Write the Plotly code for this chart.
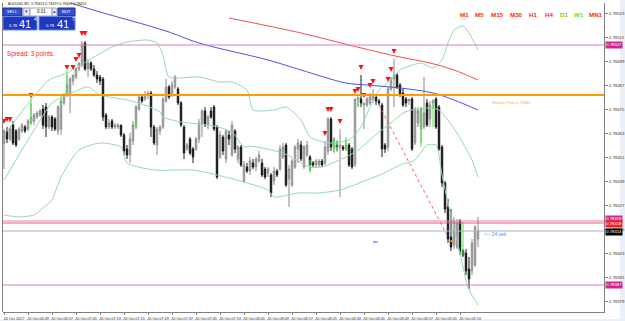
import plotly.graph_objects as go

# ---------------- data (prices in points, 1 point = 0.00001) ----------------
open_pts = [78458,78464,78460,78467,78464,78460,78464,78466,78465,78468,78469,78471,78472,78475,78476,78466,78471,78470,78464,78465,
            78478,78482,78482,78489,78491,78495,78497,78508,78495,78498,78495,78492,78491,78490,78472,78466,78469,78466,78466,78467,
            78462,78455,78452,78459,78466,78475,78481,78480,78482,78483,78466,78457,78464,78466,78479,78486,78482,78486,78485,78478,
            78466,78455,78460,78455,78455,78460,78468,78474,78467,78474,78476,78466,78451,78461,78450,78462,78452,78464,78450,78456,
            78439,78446,78444,78448,78446,78449,78448,78445,78443,78442,78439,78444,78445,78451,78457,78440,78437,78446,78455,78457,
            78446,78452,78451,78448,78447,78447,78449,78448,78454,78470,78455,78457,78456,78456,78455,78457,78455,78447,78480,78480,
            78477,78477,78478,78480,78481,78479,78477,78457,78456,78485,78490,78492,78487,78483,78480,78479,78480,78458,78468,78465,
            78466,78478,78470,78478,78480,78476,78456,78438,78426,78411,78407,78406,78419,78404,78403,78395,78394,78397,78410]
high_pts = [78465,78466,78466,78469,78465,78466,78468,78467,78470,78478,78473,78474,78475,78477,78478,78472,78472,78471,78477,78480,
            78483,78492,78491,78492,78496,78498,78509,78509,78500,78499,78497,78494,78492,78491,78473,78470,78470,78468,78468,78467,
            78463,78457,78463,78469,78477,78482,78482,78484,78484,78484,78467,78466,78467,78481,78490,78487,78489,78492,78486,78479,
            78467,78458,78461,78456,78461,78470,78475,78476,78472,78476,78477,78467,78464,78462,78465,78464,78469,78465,78457,78457,
            78449,78448,78451,78450,78451,78454,78450,78446,78446,78443,78446,78445,78457,78458,78458,78447,78450,78457,78460,78459,
            78457,78459,78452,78449,78450,78450,78450,78459,78471,78471,78461,78459,78465,78457,78460,78458,78456,78480,78481,78492,
            78478,78481,78483,78485,78482,78480,78478,78458,78486,78491,78500,78493,78488,78485,78481,78480,78481,78476,78476,78476,
            78491,78480,78479,78480,78481,78477,78457,78439,78430,78425,78421,78420,78420,78405,78405,78401,78410,78417,78421]
low_pts = [78445,78458,78459,78457,78456,78459,78463,78463,78464,78467,78467,78470,78471,78465,78461,78465,78464,78464,78462,78462,
           78477,78481,78473,78487,78490,78494,78496,78494,78491,78494,78491,78488,78487,78469,78465,78465,78465,78465,78465,78461,
           78452,78450,78448,78457,78465,78474,78478,78479,78480,78461,78457,78452,78462,78465,78478,78480,78481,78485,78477,78466,
           78450,78454,78452,78448,78454,78458,78461,78466,78465,78470,78464,78440,78450,78452,78448,78457,78451,78453,78448,78446,
           78438,78443,78442,78445,78444,78448,78441,78440,78441,78431,78437,78441,78444,78450,78436,78426,78436,78445,78448,78449,
           78445,78451,78444,78446,78446,78446,78446,78447,78452,78454,78453,78454,78431,78454,78454,78446,78445,78446,78476,78476,
           78465,78476,78477,78478,78477,78477,78451,78453,78454,78484,78476,78485,78481,78476,78476,78477,78454,78457,78466,78458,
           78465,78466,78466,78475,78465,78454,78436,78423,78408,78404,78405,78405,78402,78401,78392,78385,78392,78396,78406]
close_pts = [78464,78460,78465,78458,78457,78465,78467,78464,78469,78471,78472,78473,78474,78467,78466,78471,78466,78465,78476,78479,
             78482,78487,78490,78492,78495,78498,78507,78495,78498,78495,78492,78490,78489,78471,78466,78468,78466,78467,78467,78462,
             78454,78452,78460,78467,78476,78481,78479,78482,78483,78466,78458,78465,78466,78480,78486,78481,78487,78491,78478,78467,
             78453,78457,78453,78451,78460,78468,78474,78467,78471,78471,78465,78441,78462,78454,78464,78460,78467,78455,78456,78447,
             78447,78444,78449,78446,78450,78452,78442,78441,78445,78433,78444,78442,78455,78456,78437,78445,78449,78456,78458,78450,
             78456,78457,78447,78447,78449,78449,78447,78456,78470,78456,78460,78456,78457,78455,78457,78447,78446,78480,78481,78478,
             78478,78480,78481,78482,78479,78478,78455,78455,78485,78490,78492,78486,78482,78477,78478,78480,78455,78475,78474,78475,
             78473,78467,78477,78479,78466,78455,78438,78425,78410,78406,78419,78418,78404,78402,78394,78390,78408,78416,78414]
bars = list(range(len(close_pts)))

time_labels = ["20 Oct 2017", "20 Oct 06:49", "20 Oct 06:57", "20 Oct 07:05", "20 Oct 07:13",
               "20 Oct 07:21", "20 Oct 07:29", "20 Oct 07:37", "20 Oct 07:45", "20 Oct 07:53",
               "20 Oct 08:01", "20 Oct 08:09", "20 Oct 08:17", "20 Oct 08:25", "20 Oct 08:33",
               "20 Oct 08:41", "20 Oct 08:49", "20 Oct 08:57", "20 Oct 09:05", "20 Oct 09:13"]
time_label_bars = [8 * k for k in range(len(time_labels))]

price_ticks = [78523 - 12 * k for k in range(13)]

# moving averages (bar index, points)
ma_blue_bar = [15, 21, 32, 54, 65, 88, 99, 114, 121, 132, 143, 150, 158]
ma_blue_pts = [78531, 78528.5, 78523.5, 78514, 78508, 78499.5, 78494.5, 78488, 78487, 78485.5, 78483, 78479.5, 78474.5]
ma_red_bar = [75, 99, 115, 132, 142, 150, 158]
ma_red_pts = [78520.5, 78513, 78507, 78501, 78498, 78494.5, 78489.5]

# bollinger bands (bar index, points)
bb_up_bar = [0, 9, 15, 21, 30, 36, 41, 48, 51, 53, 55, 65, 72, 76, 81, 83, 90, 94, 99, 102, 108, 115, 119, 122, 125, 129, 132, 139, 143, 146, 148, 150, 153, 155, 158]
bb_up_pts = [78462, 78479.5, 78489.5, 78493, 78501, 78506, 78508.5, 78509.5, 78508, 78502, 78491, 78491, 78488.5, 78488.5, 78484.5, 78474.5, 78474.5, 78476, 78469.5, 78461, 78458, 78459.5, 78466, 78476, 78484.5, 78489.5, 78494.5, 78498, 78495.5, 78499.5, 78508, 78514.5, 78516.5, 78513, 78504.5]
bb_mid_bar = [0, 10, 16, 21, 28, 32, 41, 45, 52, 53, 59, 65, 70, 76, 80, 82, 93, 102, 106, 114, 118, 123, 125, 129, 133, 136, 142, 145, 151, 156, 158]
bb_mid_pts = [78439.5, 78464.5, 78478, 78482, 78486, 78482, 78479.5, 78478, 78473.5, 78471, 78468.5, 78467.5, 78466.5, 78463.5, 78456, 78456.5, 78453, 78446, 78446, 78451, 78454.5, 78461, 78463.5, 78468, 78473, 78474.5, 78475.5, 78474.5, 78463, 78449.5, 78441]
bb_low_bar = [0, 5, 10, 13, 16, 19, 25, 32, 39, 41, 50, 63, 71, 80, 88, 90, 98, 105, 112, 121, 126, 132, 137, 141, 144, 146, 148, 151, 154, 155, 158]
bb_low_pts = [78422, 78421, 78422, 78425.5, 78429.5, 78441, 78454.5, 78458, 78456, 78448, 78444.5, 78444.5, 78442, 78438.5, 78434.5, 78431, 78433, 78433, 78434.5, 78439.5, 78442.5, 78447, 78449.5, 78457, 78457, 78442, 78428, 78409.5, 78389.5, 78384.5, 78377]

# signal bars (lime segments): bar, top, bottom
sig_bar = [9, 19, 21, 44, 102, 110, 111, 114, 118, 139, 143, 153]
sig_top = [78481.5, 78482, 78494.5, 78468.5, 78449.5, 78459.5, 78459.5, 78461, 78481, 78476, 78478.5, 78418.5]
sig_bot = [78467, 78476, 78483, 78466, 78443, 78453.5, 78453.5, 78454.5, 78476, 78456, 78466, 78402]

# red arrows above highs
arrow_bars = [0, 1, 2, 9, 21, 23, 24, 25, 26, 27, 107, 108, 109, 112, 117, 118, 119, 120, 122, 123, 128, 129, 130]

# dotted red trend line
trend_bar = [125, 148]
trend_pts = [78477, 78411]

# horizontal levels
lvl_pink = [78507, 78419, 78387]
lvl_orange = 78482
lvl_red = 78418
bid_pts = 78414

tf_labels = ["M1", "M5", "M15", "M30", "H1", "H4", "D1", "W1", "MN1"]
tf_colors = ["#ff2a00"] * 6 + ["#6fe000", "#6fe000", "#ff2a00"]

P = lambda v: v / 1e5

# ---------------- figure ----------------
W, H = 625, 321
L, R, T, B = 3, 604, 3, 312
def PX(x): return (x - L) / (R - L)
def PY(y): return 1 - (y - T) / (B - T)

fig = go.Figure()

fig.add_trace(go.Candlestick(
    x=bars, open=[P(v) for v in open_pts], high=[P(v) for v in high_pts],
    low=[P(v) for v in low_pts], close=[P(v) for v in close_pts],
    increasing=dict(fillcolor="#d2d2d2", line=dict(color="#8a8a8a", width=1)),
    decreasing=dict(fillcolor="#000000", line=dict(color="#1a1a1a", width=1)),
    whiskerwidth=0, showlegend=False, hoverinfo="skip"))

band_col = "#93d9ae"
for bx, by in [(bb_up_bar, bb_up_pts), (bb_mid_bar, bb_mid_pts), (bb_low_bar, bb_low_pts)]:
    fig.add_trace(go.Scatter(x=bx, y=[P(v) for v in by], mode="lines",
                             line=dict(color=band_col, width=1, shape="spline", smoothing=0.6),
                             showlegend=False, hoverinfo="skip"))
fig.add_trace(go.Scatter(x=ma_blue_bar, y=[P(v) for v in ma_blue_pts], mode="lines",
                         line=dict(color="#5050e8", width=1, shape="spline"), showlegend=False, hoverinfo="skip"))
fig.add_trace(go.Scatter(x=ma_red_bar, y=[P(v) for v in ma_red_pts], mode="lines",
                         line=dict(color="#f05050", width=1, shape="spline"), showlegend=False, hoverinfo="skip"))

sx, sy = [], []
for b, t, bt in zip(sig_bar, sig_top, sig_bot):
    sx += [b, b, None]; sy += [P(t), P(bt), None]
fig.add_trace(go.Scatter(x=sx, y=sy, mode="lines", line=dict(color="#44ee44", width=1),
                         showlegend=False, hoverinfo="skip"))

fig.add_trace(go.Scatter(x=trend_bar, y=[P(v) for v in trend_pts], mode="lines",
                         line=dict(color="#ff5a5a", width=1, dash="dot"), showlegend=False, hoverinfo="skip"))

fig.add_trace(go.Scatter(x=arrow_bars, y=[P(high_pts[i] + 2.5) for i in arrow_bars], mode="markers",
                         marker=dict(symbol="arrow-down", size=5, color="#ff1010", line=dict(width=0)),
                         showlegend=False, hoverinfo="skip"))

shapes = []
def hline(p, color, width=1):
    shapes.append(dict(type="line", xref="paper", yref="y", x0=0, x1=1, y0=P(p), y1=P(p),
                       line=dict(color=color, width=width), layer="above"))
hline(lvl_orange, "#ff9a00", 2)
for p in lvl_pink:
    hline(p, "#e07cc4", 1)
hline(lvl_red, "#ee6060", 1)
hline(bid_pts, "#a8b2c0", 1)

# outer light strips
shapes.append(dict(type="rect", xref="paper", yref="paper", x0=PX(620), x1=PX(627), y0=PY(323), y1=PY(-2),
                   fillcolor="#eaf0f8", line=dict(width=0), layer="below"))
shapes.append(dict(type="rect", xref="paper", yref="paper", x0=PX(-2), x1=PX(627), y0=PY(323), y1=PY(319),
                   fillcolor="#eaf0f8", line=dict(width=0), layer="below"))
# frame left
shapes.append(dict(type="line", xref="paper", yref="paper", x0=PX(2.5), x1=PX(2.5), y0=0, y1=1,
                   line=dict(color="#808080", width=1)))

# one-click trading panel
def rect(x0, y0, x1, y1, fill, line="#1a2a90"):
    shapes.append(dict(type="rect", xref="paper", yref="paper", x0=PX(x0), x1=PX(x1), y0=PY(y1), y1=PY(y0),
                       fillcolor=fill, line=dict(color=line, width=1), layer="above"))
rect(3, 8, 22, 16, "#3350d0")
rect(23, 8, 30, 16, "#e4e8f2", "#9aa4c0")
rect(30, 8, 52, 16, "#ffffff", "#9aa4c0")
rect(52, 8, 57, 16, "#e4e8f2", "#9aa4c0")
rect(58, 8, 75, 16, "#3350d0")
rect(3, 16.5, 37, 30, "#1e38c0", "#6f86e0")
rect(39, 16.5, 75, 30, "#1e38c0", "#6f86e0")

ann = []
def text(x, y, s, size, color, xanchor="left", yanchor="middle", bold=False, family="Liberation Sans, Arial"):
    ann.append(dict(xref="paper", yref="paper", x=PX(x), y=PY(y), text=("<b>%s</b>" % s) if bold else s,
                    showarrow=False, xanchor=xanchor, yanchor=yanchor,
                    font=dict(size=size, color=color, family=family)))

text(6, 4, "AUDUSD,M1  0.78413 0.78419 0.78407 0.78414", 3.6, "#202020")
text(12.5, 12, "SELL", 4.2, "#ffffff", "center")
text(26.5, 12, "▾", 4.5, "#404060", "center")
text(41, 12, "0.01", 4.5, "#202020", "center")
text(54.5, 12, "▴", 4.5, "#404060", "center")
text(66.5, 12, "BUY", 4.2, "#ffffff", "center")
text(7, 25, "0.78", 4.2, "#ffffff")
text(17, 23.5, "41", 11, "#ffffff")
text(31.5, 19.5, "4", 5, "#ffffff")
text(44, 25, "0.78", 4.2, "#ffffff")
text(55, 23.5, "41", 11, "#ffffff")
text(69.5, 19.5, "7", 5, "#ffffff")
text(5, 54, "Spread: 3 points.", 6.3, "#ff2020")

tf_x = [458, 473, 489, 508, 527, 543, 558, 572, 587]
for s, c, x in zip(tf_labels, tf_colors, tf_x):
    text(x, 14.5, s, 6.2, c, bold=True)

# labels on the chart
ann.append(dict(xref="x", yref="y", x=162, y=P(lvl_orange - 1.5), text="Weekly Pivot 0.78482",
                showarrow=False, xanchor="left", yanchor="top", font=dict(size=4, color="#ffaa44", family="Liberation Sans")))
ann.append(dict(xref="x", yref="y", x=159.3, y=P(bid_pts - 1.5), text="<-- 24 sek",
                showarrow=False, xanchor="left", yanchor="middle", font=dict(size=5, color="#4d9bf0", family="Liberation Sans")))

# right-hand price tags
def tag(p, bg, dy=0):
    ann.append(dict(xref="paper", yref="y", x=PX(605), y=P(p), yshift=dy, text="%.5f" % P(p),
                    showarrow=False, xanchor="left", yanchor="middle", bgcolor=bg, borderpad=0.3,
                    font=dict(size=4.2, color="#ffffff", family="Liberation Sans")))
tag(lvl_pink[0], "#d2248e")
tag(lvl_pink[1], "#d2248e", 2)
tag(lvl_red, "#ee2020", -1)
tag(bid_pts, "#000000", -0.5)
tag(lvl_pink[2], "#d2248e")

# small marks
fig.add_trace(go.Scatter(x=[149.2], y=[P(78409)], mode="markers",
                         marker=dict(symbol="square", size=2, color="#ff9a00"), showlegend=False, hoverinfo="skip"))
fig.add_trace(go.Scatter(x=[123, 124.5], y=[P(78408.5), P(78408.5)], mode="lines",
                         line=dict(color="#4a4af0", width=1), showlegend=False, hoverinfo="skip"))

fig.update_layout(
    width=W, height=H, margin=dict(l=L, r=W - R, t=T, b=H - B),
    paper_bgcolor="#ffffff", plot_bgcolor="#ffffff",
    shapes=shapes, annotations=ann, showlegend=False,
    xaxis=dict(range=[-1 / 3, (R - 4) / 3], rangeslider=dict(visible=False), showgrid=False, zeroline=False,
               tickmode="array", tickvals=time_label_bars, ticktext=time_labels, tickangle=0,
               ticks="outside", ticklen=2, tickcolor="#808080",
               tickfont=dict(size=3.8, color="#303030", family="Liberation Sans Narrow, Liberation Sans"),
               ticklabelshift=10, ticklabelstandoff=0, showline=True, linecolor="#808080", linewidth=1,
               automargin=False, fixedrange=True),
    yaxis=dict(range=[P(78373.5), P(78528)], side="right", showgrid=False, zeroline=False,
               tickmode="array", tickvals=[P(v) for v in price_ticks], ticktext=["%.5f" % P(v) for v in price_ticks],
               ticks="outside", ticklen=3, tickcolor="#808080",
               tickfont=dict(size=4.3, color="#303030", family="Liberation Sans"),
               showline=True, linecolor="#808080", linewidth=1, automargin=False, fixedrange=True),
)

fig.write_html("out.html")
